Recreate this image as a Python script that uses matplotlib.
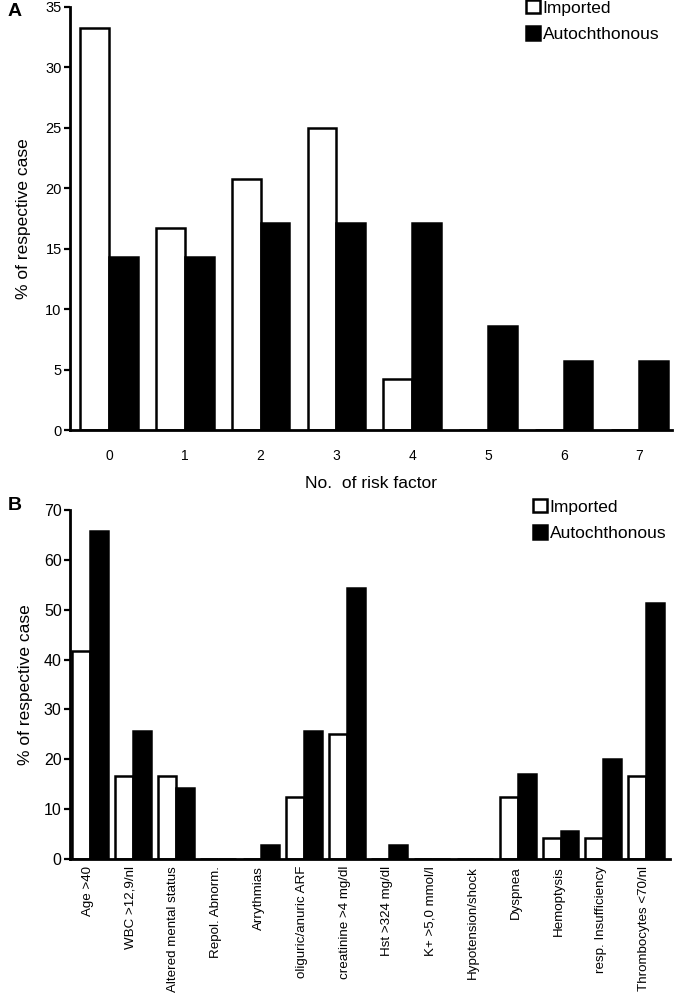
import matplotlib
matplotlib.use("Agg")
import matplotlib.pyplot as plt
from matplotlib import font_manager
import numpy as np

plt.rcParams['font.family'] = ['Liberation Sans', 'DejaVu Sans']

# Panel A data
risk_factors = ['0', '1', '2', '3', '4', '5', '6', '7']
imported_a = [33.3, 16.7, 20.8, 25.0, 4.2, 0, 0, 0]
autoch_a = [14.3, 14.3, 17.1, 17.1, 17.1, 8.6, 5.7, 5.7]

# Panel B data
criteria = ['Age >40', 'WBC >12,9/nl', 'Altered mental status', 'Repol. Abnorm.',
            'Arrythmias', 'oliguric/anuric ARF', 'creatinine >4 mg/dl',
            'Hst >324 mg/dl', 'K+ >5,0 mmol/l', 'Hypotension/shock', 'Dyspnea',
            'Hemoptysis', 'resp. Insufficiency', 'Thrombocytes <70/nl']
imported_b = [41.7, 16.7, 16.7, 0, 0, 12.5, 25.0, 0, 0, 0, 12.5, 4.2, 4.2, 16.7]
autoch_b = [65.7, 25.7, 14.3, 0, 2.9, 25.7, 54.3, 2.9, 0, 0, 17.1, 5.7, 20.0, 51.4]

installed = {f.name for f in font_manager.fontManager.ttflist}
if 'Liberation Sans Narrow' in installed:
    label_family, label_size = ['Liberation Sans Narrow'], 11.5
else:
    label_family, label_size = ['Liberation Sans', 'DejaVu Sans'], 9.6

W, H = 675, 994
fig = plt.figure(figsize=(W / 100, H / 100), dpi=100)

lw = 1.8


def style(ax, fs, xpad):
    for s in ['top', 'right']:
        ax.spines[s].set_visible(False)
    for s in ['left', 'bottom']:
        ax.spines[s].set_linewidth(2.0)
    ax.tick_params(axis='y', direction='out', length=4, width=1.6, labelsize=fs, pad=2)
    ax.tick_params(axis='x', length=0, pad=xpad)


# ---- Panel A ----
axA = fig.add_axes([70 / W, 1 - 430 / H, 602 / W, 423 / H])
x = np.arange(len(risk_factors))
bw = 0.38
axA.bar(x - bw / 2, imported_a, bw, color='white', edgecolor='black', linewidth=lw,
        label='Imported', zorder=2)
axA.bar(x + bw / 2, autoch_a, bw, color='black', edgecolor='black', linewidth=lw,
        label='Autochthonous', zorder=2)
axA.set_xlim(-0.515, 7.43)
axA.set_ylim(0, 35)
axA.set_yticks(range(0, 36, 5))
axA.set_xticks(x)
axA.set_xticklabels(risk_factors, fontsize=10)
style(axA, 10.5, 14)
axA.set_ylabel('% of respective case', fontsize=12.5, labelpad=10)
axA.set_xlabel('No.  of risk factor', fontsize=12.5, labelpad=9)
axA.legend(loc='upper left', bbox_to_anchor=(526 / W, 1 - 0 / H),
           bbox_transform=fig.transFigure, frameon=False, fontsize=12.5,
           borderpad=0, handlelength=0.8, handleheight=0.8, handletextpad=0.15,
           labelspacing=0.62, borderaxespad=0)
fig.text(8 / W, 1 - 12 / H, 'A', fontsize=14, fontweight='bold', va='center', ha='left')

# ---- Panel B ----
axB = fig.add_axes([70 / W, 1 - 859 / H, 600 / W, 349 / H])
xb = np.arange(len(criteria))
bwb = 0.42
axB.bar(xb - bwb / 2, imported_b, bwb, color='white', edgecolor='black', linewidth=lw,
        label='Imported', zorder=2)
axB.bar(xb + bwb / 2, autoch_b, bwb, color='black', edgecolor='black', linewidth=lw,
        label='Autochthonous', zorder=2)
axB.set_xlim(-0.47, 13.56)
axB.set_ylim(0, 70)
axB.set_yticks(range(0, 71, 10))
axB.set_xticks(xb - 0.05)
axB.set_xticklabels(criteria, rotation=90, ha='center', va='top',
                    fontsize=label_size, family=label_family)
style(axB, 11.5, 5)
axB.set_ylabel('% of respective case', fontsize=12.5, labelpad=8)
axB.legend(loc='upper left', bbox_to_anchor=(533 / W, 1 - 499 / H),
           bbox_transform=fig.transFigure, frameon=False, fontsize=12.5,
           borderpad=0, handlelength=0.8, handleheight=0.8, handletextpad=0.15,
           labelspacing=0.62, borderaxespad=0)
fig.text(8 / W, 1 - 505 / H, 'B', fontsize=14, fontweight='bold', va='center', ha='left')

fig.savefig('out.png', dpi=100)
